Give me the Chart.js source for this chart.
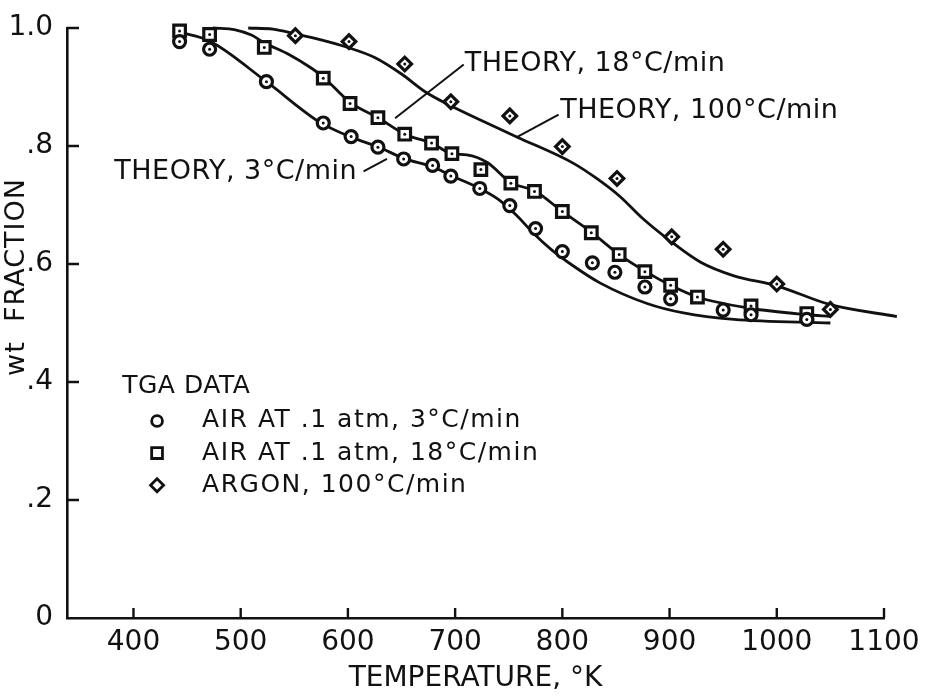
<!DOCTYPE html>
<html>
<head>
<meta charset="utf-8">
<script src="https://cdn.jsdelivr.net/npm/chart.js@4.4.1/dist/chart.umd.min.js"></script>
<style>
  html, body { margin: 0; padding: 0; background: #fff; }
  canvas { display: block; }
</style>
</head>
<body>
<canvas id="tga" width="928" height="696"></canvas>
<script>
// Axis ticks
const xTicks = [400, 500, 600, 700, 800, 900, 1000, 1100];
const yTicks = [0, 0.2, 0.4, 0.6, 0.8, 1.0];
const yTickLabels = ['0', '.2', '.4', '.6', '.8', '1.0'];

// TGA data, temperature (K) and weight fraction
const air3T  = [443, 471, 524, 577, 603, 628, 652, 679, 696, 723, 751, 775, 800, 828, 849, 877, 901, 950, 976, 1028];
const air3W  = [0.977, 0.964, 0.909, 0.839, 0.816, 0.798, 0.778, 0.767, 0.749, 0.728, 0.699, 0.660, 0.621, 0.602, 0.586, 0.561, 0.541, 0.522, 0.514, 0.506];
const air18T = [443, 471, 522, 577, 602, 628, 653, 678, 697, 724, 752, 774, 800, 827, 853, 877, 901, 926, 976, 1028];
const air18W = [0.995, 0.989, 0.967, 0.915, 0.872, 0.848, 0.820, 0.805, 0.787, 0.760, 0.737, 0.723, 0.689, 0.653, 0.616, 0.587, 0.564, 0.544, 0.529, 0.516];
const argonT = [551, 601, 653, 696, 751, 800, 851, 902, 950, 1000, 1050];
const argonW = [0.987, 0.977, 0.939, 0.875, 0.851, 0.799, 0.745, 0.646, 0.625, 0.566, 0.523];

// Theory curves
const theory3T  = [443, 471, 524, 574, 603, 629, 652, 680, 696, 723, 740, 757, 773, 790, 810, 835, 879, 913, 960, 1050];
const theory3W  = [0.993, 0.978, 0.909, 0.840, 0.815, 0.798, 0.779, 0.764, 0.750, 0.728, 0.710, 0.683, 0.652, 0.624, 0.597, 0.568, 0.533, 0.517, 0.506, 0.500];
const theory18T = [474, 495, 510, 522, 545, 565, 577, 602, 628, 653, 678, 697, 711, 730, 752, 774, 800, 827, 853, 877, 901, 926, 975, 1028, 1050];
const theory18W = [1.0, 0.997, 0.988, 0.975, 0.955, 0.933, 0.917, 0.874, 0.848, 0.820, 0.805, 0.787, 0.785, 0.772, 0.738, 0.724, 0.689, 0.654, 0.616, 0.588, 0.564, 0.544, 0.525, 0.514, 0.511];
const theory100T = [507, 530, 551, 575, 600, 625, 650, 672, 695, 720, 758, 810, 832, 854, 875, 900, 929, 960, 1000, 1050, 1112];
const theory100W = [1.0, 0.998, 0.990, 0.980, 0.967, 0.950, 0.922, 0.892, 0.869, 0.847, 0.815, 0.771, 0.745, 0.714, 0.677, 0.640, 0.603, 0.580, 0.563, 0.531, 0.511];

const INK = '#111';
const FONT = '"DejaVu Sans", sans-serif';
Chart.defaults.font.family = FONT;
Chart.defaults.color = INK;

function pts(xs, ys) {
  return xs.map((x, i) => ({x: x, y: ys[i]}));
}

function markers(label, xs, ys, style, radius) {
  return {
    label: label,
    data: pts(xs, ys),
    showLine: false,
    pointStyle: style,
    pointRadius: radius,
    pointBorderWidth: 3.2,
    pointBorderColor: INK,
    pointBackgroundColor: '#fff',
    dotted: true,
    clip: false,
    order: 0
  };
}

function curve(label, xs, ys) {
  return {
    label: label,
    data: pts(xs, ys),
    showLine: true,
    pointRadius: 0,
    borderColor: INK,
    borderWidth: 2.8,
    cubicInterpolationMode: 'monotone',
    clip: false,
    order: 1
  };
}

// legend rows: label, point style
const legendTitle = 'TGA DATA';
const legendRows = [
  ['AIR AT .1 atm, 3°C/min', 'circle'],
  ['AIR AT .1 atm, 18°C/min', 'rect'],
  ['ARGON, 100°C/min', 'rectRot']
];

// curve labels with leader lines, in data units
const notes = [
  {text: 'THEORY, 18°C/min', at: [709, 0.939], align: 'left', lead: [[708, 0.938], [644, 0.847]]},
  {text: 'THEORY, 100°C/min', at: [798, 0.859], align: 'left', lead: [[796.5, 0.853], [757.6, 0.815]]},
  {text: 'THEORY, 3°C/min', at: [608.6, 0.756], align: 'right', lead: [[614.6, 0.757], [636.4, 0.778]]}
];

function spacedText(ctx, text, x, y, size, spacing, align) {
  ctx.font = size + 'px ' + FONT;
  ctx.letterSpacing = spacing + 'px';
  ctx.textAlign = align;
  ctx.textBaseline = 'middle';
  ctx.fillText(text, x, y);
}

function drawSymbol(ctx, style, x, y) {
  ctx.beginPath();
  if (style === 'circle') {
    ctx.arc(x, y, 5.4, 0, Math.PI * 2);
  } else if (style === 'rect') {
    ctx.rect(x - 5.4, y - 5.4, 10.8, 10.8);
  } else {
    ctx.moveTo(x - 6.5, y); ctx.lineTo(x, y - 6.5); ctx.lineTo(x + 6.5, y); ctx.lineTo(x, y + 6.5); ctx.closePath();
  }
  ctx.stroke();
}

const centreDots = {
  id: 'centreDots',
  afterDatasetsDraw(chart) {
    const ctx = chart.ctx;
    ctx.save();
    ctx.fillStyle = INK;
    chart.data.datasets.forEach((ds, i) => {
      if (!ds.dotted) return;
      chart.getDatasetMeta(i).data.forEach(p => {
        ctx.beginPath();
        ctx.arc(p.x, p.y, 1.5, 0, Math.PI * 2);
        ctx.fill();
      });
    });
    ctx.restore();
  }
};

const decorations = {
  id: 'decorations',
  afterDraw(chart) {
    const ctx = chart.ctx;
    const xs = chart.scales.x, ys = chart.scales.y;
    const area = chart.chartArea;
    ctx.save();
    ctx.strokeStyle = INK;
    ctx.fillStyle = INK;
    ctx.lineCap = 'butt';

    // inward tick marks
    ctx.lineWidth = 2.4;
    ctx.beginPath();
    xTicks.forEach(v => {
      const px = xs.getPixelForValue(v);
      ctx.moveTo(px, area.bottom);
      ctx.lineTo(px, area.bottom - 10);
    });
    yTicks.slice(1).forEach(v => {
      const py = ys.getPixelForValue(v);
      ctx.moveTo(area.left, py);
      ctx.lineTo(area.left + 12, py);
    });
    ctx.stroke();

    // y axis title, rotated
    ctx.save();
    ctx.translate(17, 277);
    ctx.rotate(-Math.PI / 2);
    spacedText(ctx, 'wt  FRACTION', 0, 0, 27, 1, 'center');
    ctx.restore();

    // curve labels and leaders
    ctx.lineWidth = 2;
    notes.forEach(n => {
      ctx.beginPath();
      ctx.moveTo(xs.getPixelForValue(n.lead[0][0]), ys.getPixelForValue(n.lead[0][1]));
      ctx.lineTo(xs.getPixelForValue(n.lead[1][0]), ys.getPixelForValue(n.lead[1][1]));
      ctx.stroke();
      spacedText(ctx, n.text, xs.getPixelForValue(n.at[0]), ys.getPixelForValue(n.at[1]), 27, 0.5, n.align);
    });

    // key
    const keyLeft = xs.getPixelForValue(389.5);
    const symX = xs.getPixelForValue(422);
    const textX = xs.getPixelForValue(464);
    spacedText(ctx, legendTitle, keyLeft, ys.getPixelForValue(0.392), 25, 0.5, 'left');
    ctx.lineWidth = 2.8;
    legendRows.forEach((row, i) => {
      const y = ys.getPixelForValue(0.334 - i * 0.0545);
      drawSymbol(ctx, row[1], symX, y);
      spacedText(ctx, row[0], textX, y, 25, 1.5, 'left');
    });
    ctx.restore();
  }
};

new Chart(document.getElementById('tga'), {
  type: 'scatter',
  data: {
    datasets: [
      markers('AIR AT .1 atm, 3°C/min', air3T, air3W, 'circle', 6),
      markers('AIR AT .1 atm, 18°C/min', air18T, air18W, 'rect', 8.2),
      markers('ARGON, 100°C/min', argonT, argonW, 'rectRot', 6.8),
      curve('THEORY, 3°C/min', theory3T, theory3W),
      curve('THEORY, 18°C/min', theory18T, theory18W),
      curve('THEORY, 100°C/min', theory100T, theory100W)
    ]
  },
  options: {
    responsive: false,
    animation: false,
    devicePixelRatio: 1,
    layout: { padding: { top: 15, right: 44, left: 0, bottom: 0 } },
    plugins: {
      legend: { display: false },
      tooltip: { enabled: false }
    },
    scales: {
      x: {
        type: 'linear',
        min: 338,
        max: 1100,
        afterBuildTicks: s => { s.ticks = xTicks.map(v => ({value: v})); },
        afterFit: s => { s.height = 78; },
        grid: { display: false, drawTicks: false },
        border: { display: true, color: INK, width: 2.6 },
        ticks: {
          font: { size: 28 },
          padding: 8,
          maxRotation: 0,
          autoSkip: false,
          callback: v => String(v)
        },
        title: {
          display: true,
          text: 'TEMPERATURE, °K',
          font: { size: 28 },
          padding: { top: 0, bottom: 0 }
        }
      },
      y: {
        type: 'linear',
        min: 0,
        max: 1,
        afterBuildTicks: s => { s.ticks = yTicks.map(v => ({value: v})); },
        afterFit: s => { s.width = 67; },
        grid: { display: false, drawTicks: false },
        border: { display: true, color: INK, width: 2.6 },
        ticks: {
          font: { size: 28, lineHeight: 1 },
          padding: 14,
          callback: (v, i) => yTickLabels[i]
        }
      }
    }
  },
  plugins: [centreDots, decorations]
});
</script>
</body>
</html>
